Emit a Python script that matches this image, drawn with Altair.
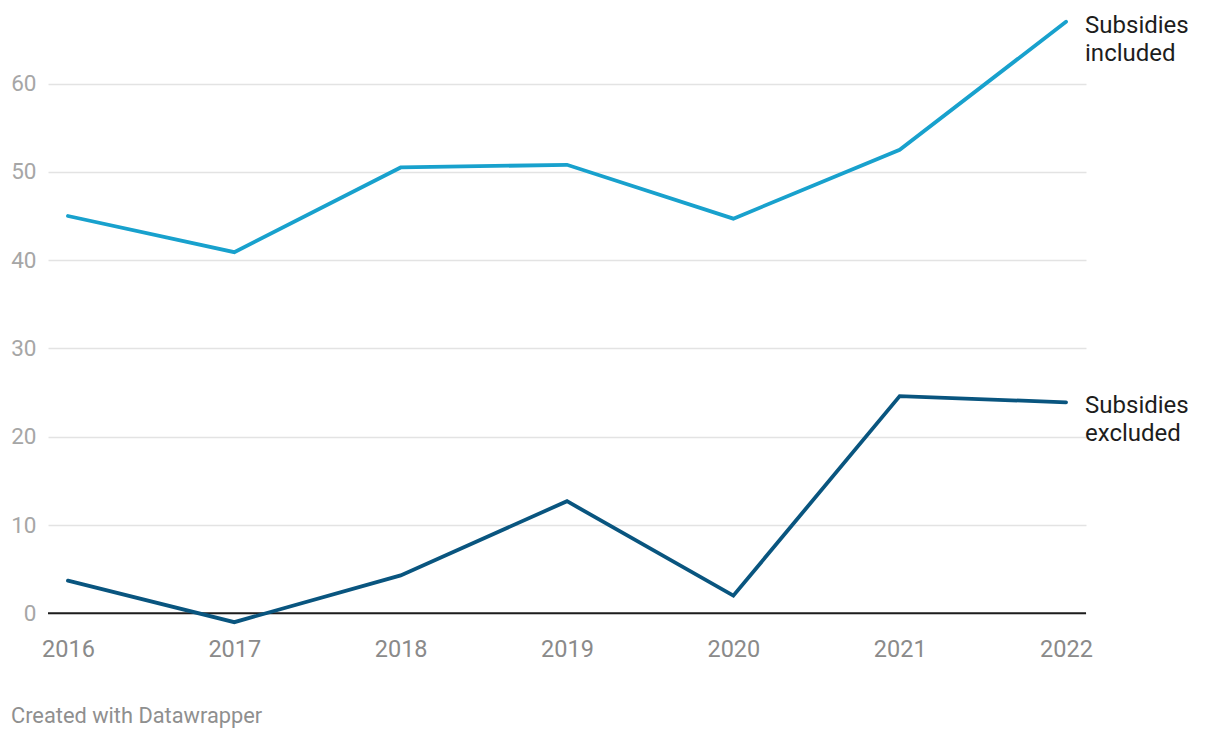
import altair as alt
import pandas as pd

years = [2016, 2017, 2018, 2019, 2020, 2021, 2022]
included = [45.0, 40.9, 50.5, 50.8, 44.7, 52.5, 67.0]
excluded = [3.7, -1.0, 4.3, 12.7, 2.0, 24.6, 23.9]
series_names = ["Subsidies included", "Subsidies excluded"]
series_labels = ["Subsidies\nincluded", "Subsidies\nexcluded"]
colors = ["#18a1cd", "#09557f"]
y_ticks = [0, 10, 20, 30, 40, 50, 60]

rows = []
for name, vals in zip(series_names, [included, excluded]):
    for yr, v in zip(years, vals):
        rows.append({"year": yr, "value": v, "series": name})
df = pd.DataFrame(rows)

lab_df = pd.DataFrame({
    "year": [years[-1], years[-1]],
    "value": [included[-1], excluded[-1]],
    "series": series_names,
    "label": series_labels,
})

FONT = "Roboto"

x = alt.X("year:Q", scale=alt.Scale(domain=[2015.88, 2022.12], nice=False, zero=False),
          axis=alt.Axis(values=years, format="d", title=None, grid=False, domain=False,
                        ticks=False, labelFontSize=23.5, labelColor="#8a8a8a", labelFont=FONT,
                        labelPadding=6, labelFlush=False))
y = alt.Y("value:Q", scale=alt.Scale(domain=[-2, 67.2], nice=False, zero=False),
          axis=alt.Axis(values=y_ticks, title=None, grid=True, gridColor="#e3e3e3", gridWidth=1.5,
                        domain=False, ticks=False, labelFontSize=22.5, labelColor="#a6a6a6",
                        labelFont=FONT, labelPadding=12))

color = alt.Color("series:N", scale=alt.Scale(domain=series_names, range=colors), legend=None)

lines = alt.Chart(df).mark_line(strokeWidth=3.8, strokeCap="round", strokeJoin="miter").encode(
    x=x, y=y, color=color, detail="series:N")

zero = alt.Chart(pd.DataFrame({"v": [0]})).mark_rule(color="#1d1d1d", strokeWidth=2).encode(
    y=alt.Y("v:Q"))

labels = alt.Chart(lab_df).mark_text(align="left", baseline="top", dx=19, dy=-8,
                                     fontSize=24, font=FONT, color="#1d1d1d",
                                     lineBreak="\n", lineHeight=28).encode(
    x="year:Q", y="value:Q", text="label:N")

credit = alt.Chart(pd.DataFrame({"t": ["Created with Datawrapper"]})).mark_text(
    align="left", baseline="middle", fontSize=21.8, font=FONT, color="#8f8f8f").encode(
    x=alt.value(-37), y=alt.value(696), text="t:N")

chart = alt.layer(zero, lines, labels, credit).properties(
    width=1038, height=611,
    background="white",
    autosize=alt.AutoSizeParams(type="none"),
    padding={"left": 40, "top": 12, "right": 120, "bottom": 99},
).configure_view(strokeWidth=0, stroke=None)

chart.save("out.html", embed_options={"renderer": "svg", "actions": False})
